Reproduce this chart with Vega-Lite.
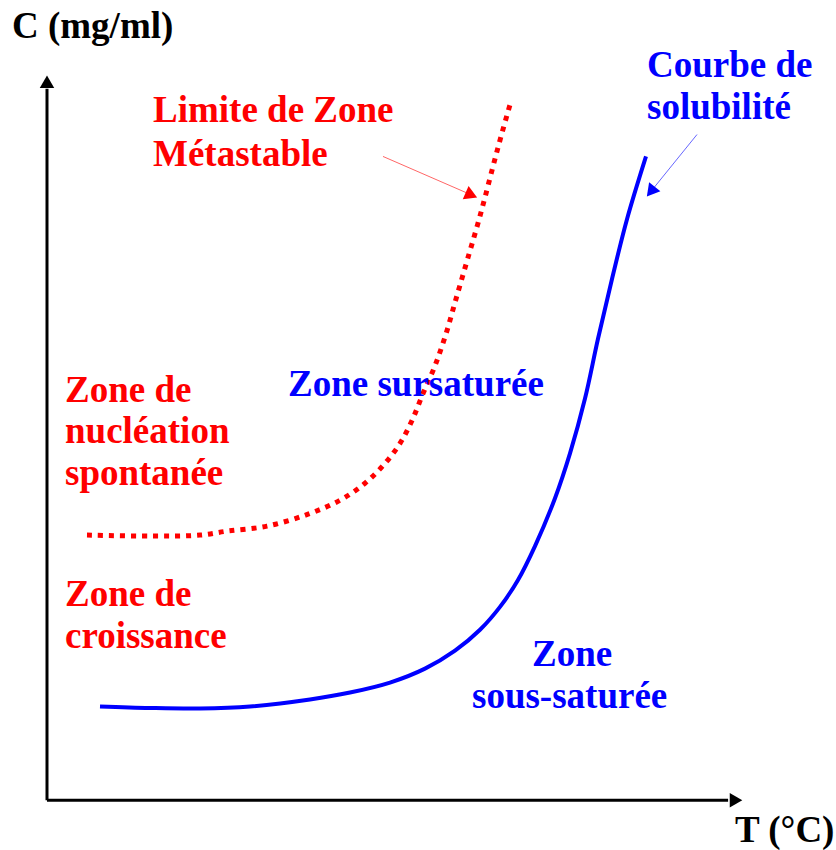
{
  "$schema": "https://vega.github.io/schema/vega-lite/v6.json",
  "width": 836,
  "height": 850,
  "autosize": {"type": "fit", "contains": "padding"},
  "padding": 0,
  "background": "#ffffff",
  "config": {"view": {"stroke": null}},
  "datasets": {
    "axes": [
      {"T": 0, "C": 0, "T2": 0, "C2": 102},
      {"T": 0, "C": 0, "T2": 97.3, "C2": 0}
    ],
    "pointers": [
      {"T": 48.0, "C": 92.286, "T2": 60.429, "C2": 86.857, "grp": "limite"},
      {"T": 92.857, "C": 95.429, "T2": 86.286, "C2": 87.286, "grp": "solubilite"}
    ],
    "heads": [
      {"T": 0, "C": 103.0, "dir": -90, "grp": "axe"},
      {"T": 98.43, "C": 0, "dir": 0, "grp": "axe"},
      {"T": 60.629, "C": 86.743, "dir": 23.6, "grp": "limite"},
      {"T": 86.257, "C": 87.243, "dir": 128.9, "grp": "solubilite"}
    ],
    "curves": [
      {"serie": "limite", "T": 5.714, "C": 38.0},
      {"serie": "limite", "T": 14.714, "C": 37.857},
      {"serie": "limite", "T": 21.857, "C": 38.0},
      {"serie": "limite", "T": 25.714, "C": 38.571},
      {"serie": "limite", "T": 31.429, "C": 39.286},
      {"serie": "limite", "T": 37.286, "C": 41.0},
      {"serie": "limite", "T": 41.857, "C": 43.0},
      {"serie": "limite", "T": 45.429, "C": 45.429},
      {"serie": "limite", "T": 48.286, "C": 48.286},
      {"serie": "limite", "T": 50.429, "C": 51.143},
      {"serie": "limite", "T": 52.143, "C": 54.429},
      {"serie": "limite", "T": 53.714, "C": 58.286},
      {"serie": "limite", "T": 55.429, "C": 62.286},
      {"serie": "limite", "T": 57.0, "C": 66.857},
      {"serie": "limite", "T": 58.429, "C": 71.857},
      {"serie": "limite", "T": 60.286, "C": 78.286},
      {"serie": "limite", "T": 61.571, "C": 82.714},
      {"serie": "limite", "T": 62.571, "C": 86.429},
      {"serie": "limite", "T": 63.714, "C": 90.857},
      {"serie": "limite", "T": 64.857, "C": 95.143},
      {"serie": "limite", "T": 66.143, "C": 99.714},
      {"serie": "solubilite", "T": 7.571, "C": 13.429},
      {"serie": "solubilite", "T": 14.714, "C": 13.214},
      {"serie": "solubilite", "T": 21.857, "C": 13.143},
      {"serie": "solubilite", "T": 29.0, "C": 13.429},
      {"serie": "solubilite", "T": 37.571, "C": 14.429},
      {"serie": "solubilite", "T": 43.286, "C": 15.429},
      {"serie": "solubilite", "T": 49.0, "C": 16.857},
      {"serie": "solubilite", "T": 54.0, "C": 18.857},
      {"serie": "solubilite", "T": 58.286, "C": 21.429},
      {"serie": "solubilite", "T": 61.857, "C": 24.429},
      {"serie": "solubilite", "T": 64.714, "C": 27.714},
      {"serie": "solubilite", "T": 67.286, "C": 31.571},
      {"serie": "solubilite", "T": 69.714, "C": 36.429},
      {"serie": "solubilite", "T": 72.571, "C": 43.286},
      {"serie": "solubilite", "T": 74.714, "C": 49.714},
      {"serie": "solubilite", "T": 76.857, "C": 57.571},
      {"serie": "solubilite", "T": 78.714, "C": 66.143},
      {"serie": "solubilite", "T": 80.714, "C": 74.714},
      {"serie": "solubilite", "T": 82.857, "C": 83.286},
      {"serie": "solubilite", "T": 85.571, "C": 92.286}
    ],
    "labels": [
      {"label": "C (mg/ml)", "T": -5.0, "C": 109.286, "grp": "axe"},
      {"label": "T (°C)", "T": 98.286, "C": -6.0, "grp": "axe"},
      {"label": "Limite de Zone", "T": 15.143, "C": 97.286, "grp": "limite"},
      {"label": "Métastable", "T": 15.143, "C": 90.857, "grp": "limite"},
      {"label": "Courbe de", "T": 85.714, "C": 103.714, "grp": "solubilite"},
      {"label": "solubilité", "T": 85.714, "C": 97.714, "grp": "solubilite"},
      {"label": "Zone sursaturée", "T": 34.429, "C": 58.0, "grp": "solubilite"},
      {"label": "Zone de", "T": 2.571, "C": 57.143, "grp": "limite"},
      {"label": "nucléation", "T": 2.571, "C": 51.143, "grp": "limite"},
      {"label": "spontanée", "T": 2.571, "C": 45.143, "grp": "limite"},
      {"label": "Zone de", "T": 2.571, "C": 27.857, "grp": "limite"},
      {"label": "croissance", "T": 2.571, "C": 21.857, "grp": "limite"},
      {"label": "Zone", "T": 69.286, "C": 19.286, "grp": "solubilite"},
      {"label": "sous-saturée", "T": 60.714, "C": 13.143, "grp": "solubilite"}
    ]
  },
  "resolve": {"scale": {"color": "shared"}},
  "layer": [
    {
      "data": {"name": "axes"},
      "mark": {"type": "rule", "strokeWidth": 3, "color": "#000000"},
      "encoding": {
        "x": {"field": "T", "type": "quantitative", "scale": {"domain": [-6.714, 112.714], "nice": false, "zero": false}, "axis": null},
        "y": {"field": "C", "type": "quantitative", "scale": {"domain": [-6.714, 114.714], "nice": false, "zero": false}, "axis": null},
        "x2": {"field": "T2"},
        "y2": {"field": "C2"}
      }
    },
    {
      "data": {"name": "pointers"},
      "mark": {"type": "rule", "strokeWidth": 1, "opacity": 0.6},
      "encoding": {
        "x": {"field": "T", "type": "quantitative"},
        "y": {"field": "C", "type": "quantitative"},
        "x2": {"field": "T2"},
        "y2": {"field": "C2"},
        "color": {"field": "grp", "type": "nominal", "scale": {"domain": ["axe", "limite", "solubilite"], "range": ["#000000", "#ff0000", "#0000ff"]}, "legend": null}
      }
    },
    {
      "data": {"name": "curves"},
      "transform": [{"filter": "datum.serie === 'solubilite'"}],
      "mark": {"type": "line", "strokeWidth": 4, "interpolate": "catmull-rom"},
      "encoding": {
        "x": {"field": "T", "type": "quantitative"},
        "y": {"field": "C", "type": "quantitative"},
        "color": {"field": "serie", "type": "nominal", "legend": null},
        "order": {"field": "T", "type": "quantitative"}
      }
    },
    {
      "data": {"name": "curves"},
      "transform": [{"filter": "datum.serie === 'limite'"}],
      "mark": {"type": "line", "strokeWidth": 5, "strokeDash": [5, 6], "strokeCap": "butt", "interpolate": "catmull-rom"},
      "encoding": {
        "x": {"field": "T", "type": "quantitative"},
        "y": {"field": "C", "type": "quantitative"},
        "color": {"field": "serie", "type": "nominal", "legend": null},
        "order": {"field": "T", "type": "quantitative"}
      }
    },
    {
      "data": {"name": "heads"},
      "mark": {"type": "point", "shape": "triangle-right", "filled": true, "opacity": 1, "size": 210, "strokeWidth": 0},
      "encoding": {
        "x": {"field": "T", "type": "quantitative"},
        "y": {"field": "C", "type": "quantitative"},
        "angle": {"field": "dir", "type": "quantitative", "scale": null},
        "color": {"field": "grp", "type": "nominal", "legend": null}
      }
    },
    {
      "data": {"name": "labels"},
      "mark": {"type": "text", "align": "left", "baseline": "alphabetic", "font": "Liberation Serif", "fontWeight": "bold", "fontSize": 37},
      "encoding": {
        "x": {"field": "T", "type": "quantitative"},
        "y": {"field": "C", "type": "quantitative"},
        "text": {"field": "label", "type": "nominal"},
        "color": {"field": "grp", "type": "nominal", "legend": null}
      }
    }
  ]
}
